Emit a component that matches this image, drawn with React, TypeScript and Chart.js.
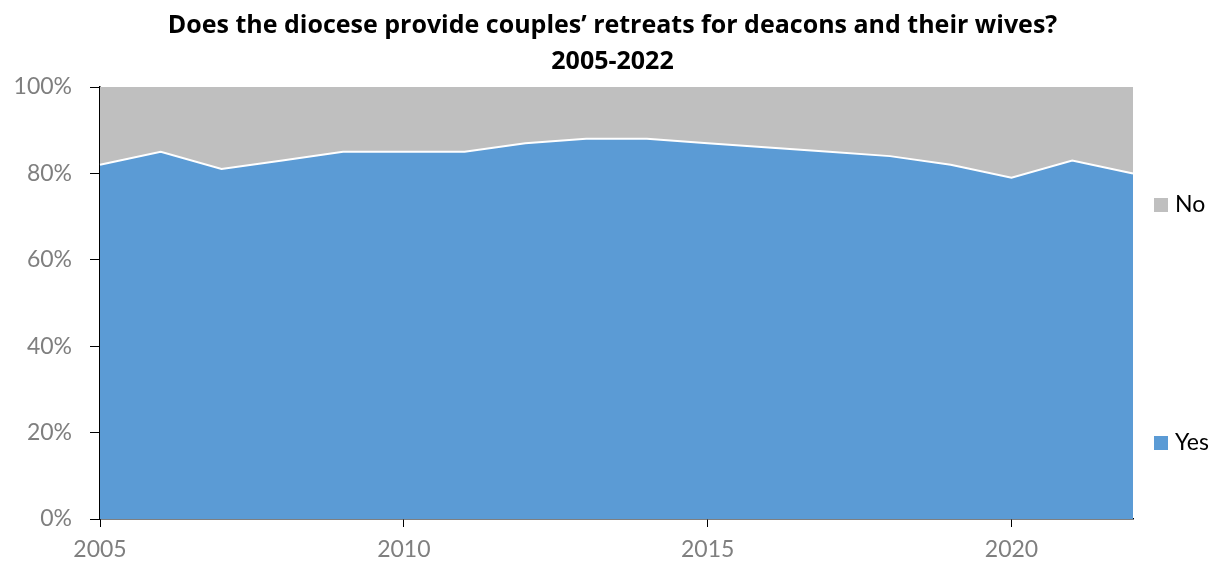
import React, { useEffect, useRef } from "react";
import { Chart, registerables } from "chart.js";

Chart.register(...registerables);

const years = ["2005", "2006", "2007", "2008", "2009", "2010", "2011", "2012", "2013", "2014", "2015", "2016", "2017", "2018", "2019", "2020", "2021", "2022"];
const yesValues = [82, 85, 81, 83, 85, 85, 85, 87, 88, 88, 87, 86, 85, 84, 82, 79, 83, 80];
const noValues = [18, 15, 19, 17, 15, 15, 15, 13, 12, 12, 13, 14, 15, 16, 18, 21, 17, 20];
const shownYears = ["2005", "2010", "2015", "2020"];
const titleLines = ["Does the diocese provide couples\u2019 retreats for deacons and their wives?", "2005-2022"];

const BLUE = "#5B9BD5";
const GRAY = "#BFBFBF";
const FONT = "Lato";
const TITLE_FONT = "'Open Sans'";

const legendPlugin = {
  id: "sideLegend",
  afterDraw(chart: any) {
    const ctx = chart.ctx;
    const items = [
      { label: chart.data.datasets[1].label, color: GRAY, y: 205 },
      { label: chart.data.datasets[0].label, color: BLUE, y: 443 },
    ];
    ctx.save();
    ctx.font = `23px ${FONT}`;
    ctx.textBaseline = "middle";
    ctx.textAlign = "left";
    for (const it of items) {
      ctx.fillStyle = it.color;
      ctx.fillRect(1154, it.y - 7, 14, 14);
      ctx.fillStyle = "#000";
      ctx.fillText(it.label, 1175, it.y);
    }
    ctx.restore();
  },
};

export default function App() {
  const ref = useRef<HTMLCanvasElement>(null);
  useEffect(() => {
    if (!ref.current) return;
    const chart = new Chart(ref.current, {
      type: "line",
      data: {
        labels: years,
        datasets: [
          {
            label: "Yes",
            data: yesValues,
            backgroundColor: BLUE,
            borderColor: "#FFFFFF",
            borderWidth: 2,
            fill: "origin",
            pointRadius: 0,
            tension: 0,
          },
          {
            label: "No",
            data: noValues,
            backgroundColor: GRAY,
            borderColor: GRAY,
            borderWidth: 0,
            fill: "-1",
            pointRadius: 0,
            tension: 0,
          },
        ],
      },
      options: {
        responsive: false,
        animation: false,
        devicePixelRatio: 1,
        layout: { padding: 0 },
        plugins: {
          legend: { display: false },
          tooltip: { enabled: false },
          title: {
            display: true,
            text: titleLines,
            color: "#000",
            font: { family: TITLE_FONT, size: 25, weight: "bold", lineHeight: 36 / 25 },
            padding: { top: 7.5, bottom: 7.5 },
          },
        },
        scales: {
          x: {
            type: "category",
            offset: false,
            afterFit: (s: any) => { s.height = 50; },
            border: { display: true, color: "#000", width: 1.5 },
            grid: {
              display: true,
              drawOnChartArea: false,
              drawTicks: true,
              tickLength: 8,
              color: (c: any) => (c.tick && shownYears.includes(years[c.index]) ? "#000" : "rgba(0,0,0,0)"),
            },
            ticks: {
              autoSkip: false,
              maxRotation: 0,
              padding: 9,
              color: "#7F7F7F",
              font: { family: FONT, size: 23 },
              callback: (_v: any, i: number) => (shownYears.includes(years[i]) ? years[i] : ""),
            },
          },
          y: {
            stacked: true,
            min: 0,
            max: 100,
            afterFit: (s: any) => { s.width = 100; },
            border: { display: true, color: "#000", width: 1.5 },
            grid: { display: true, drawOnChartArea: false, drawTicks: true, tickLength: 10, color: "#000" },
            ticks: {
              stepSize: 20,
              padding: 18,
              color: "#7F7F7F",
              font: { family: FONT, size: 23 },
              callback: (v: any) => `${v}%`,
            },
          },
          legendSpace: {
            type: "linear",
            position: "right",
            display: true,
            afterFit: (s: any) => { s.width = 92; },
            border: { display: false },
            grid: { display: false },
            ticks: { display: false },
          },
        },
      },
      plugins: [legendPlugin],
    });
    return () => chart.destroy();
  }, []);
  return (
    <div style={{ position: "fixed", left: 0, top: 0, width: 1225, height: 569, background: "#fff" }}>
      <canvas ref={ref} width={1225} height={569} />
    </div>
  );
}
